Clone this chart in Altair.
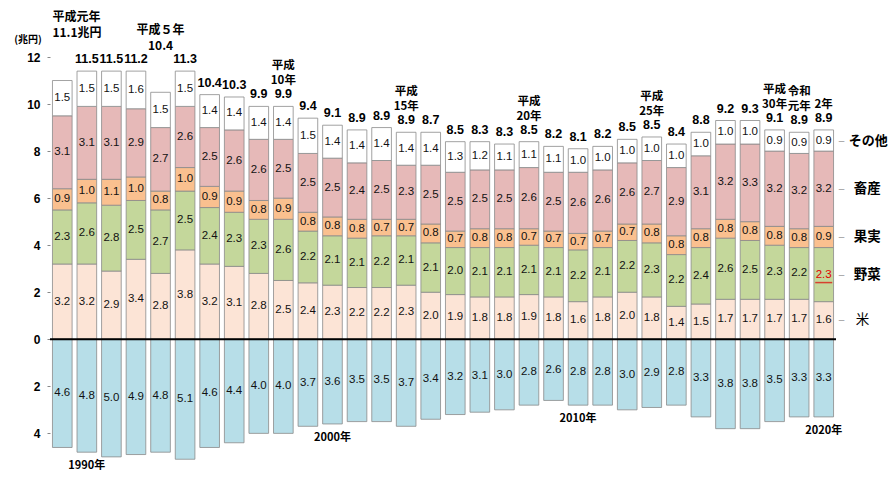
import altair as alt
import pandas as pd

years = [str(y) for y in range(1989, 2021)]
rice = [3.2, 3.2, 2.9, 3.4, 2.8, 3.8, 3.2, 3.1, 2.8, 2.5, 2.4, 2.3, 2.2, 2.2, 2.3, 2.0,
        1.9, 1.8, 1.8, 1.9, 1.8, 1.6, 1.8, 2.0, 1.8, 1.4, 1.5, 1.7, 1.7, 1.7, 1.7, 1.6]
vegetables = [2.3, 2.6, 2.8, 2.5, 2.7, 2.5, 2.4, 2.3, 2.3, 2.6, 2.2, 2.1, 2.1, 2.2, 2.1, 2.1,
              2.0, 2.1, 2.1, 2.1, 2.1, 2.2, 2.1, 2.2, 2.3, 2.2, 2.4, 2.6, 2.5, 2.3, 2.2, 2.3]
fruit = [0.9, 1.0, 1.1, 1.0, 0.8, 1.0, 0.9, 0.9, 0.8, 0.9, 0.8, 0.8, 0.8, 0.7, 0.7, 0.8,
         0.7, 0.8, 0.8, 0.7, 0.7, 0.7, 0.7, 0.7, 0.8, 0.8, 0.8, 0.8, 0.8, 0.8, 0.8, 0.9]
livestock = [3.1, 3.1, 3.1, 2.9, 2.7, 2.6, 2.5, 2.6, 2.6, 2.5, 2.5, 2.5, 2.4, 2.5, 2.3, 2.5,
             2.5, 2.5, 2.5, 2.6, 2.5, 2.6, 2.6, 2.6, 2.7, 2.9, 3.1, 3.2, 3.3, 3.2, 3.2, 3.2]
other = [1.5, 1.5, 1.5, 1.6, 1.5, 1.5, 1.4, 1.4, 1.4, 1.4, 1.5, 1.4, 1.4, 1.4, 1.4, 1.4,
         1.3, 1.2, 1.1, 1.1, 1.1, 1.0, 1.0, 1.0, 1.0, 1.0, 1.0, 1.0, 1.0, 0.9, 0.9, 0.9]
income = [4.6, 4.8, 5.0, 4.9, 4.8, 5.1, 4.6, 4.4, 4.0, 4.0, 3.7, 3.6, 3.5, 3.5, 3.7, 3.4,
          3.2, 3.1, 3.0, 2.8, 2.6, 2.8, 2.8, 3.0, 2.9, 2.8, 3.3, 3.8, 3.8, 3.5, 3.3, 3.3]
totals = [11.1, 11.5, 11.5, 11.2, 10.4, 11.3, 10.4, 10.3, 9.9, 9.9, 9.4, 9.1, 8.9, 8.9, 8.9, 8.7,
          8.5, 8.3, 8.3, 8.5, 8.2, 8.1, 8.2, 8.5, 8.5, 8.4, 8.8, 9.2, 9.3, 9.1, 8.9, 8.9]

categories = ["米", "野菜", "果実", "畜産", "その他"]
income_name = "生産農業所得"
palette = ["#FCE4D6", "#C4D79B", "#FAC08F", "#E6B9B8", "#FFFFFF", "#B7DEE8"]

era_years = ["1998", "2003", "2008", "2013", "2018", "2019", "2020"]
era_upper = ["平成", "平成", "平成", "平成", "平成", "令和", ""]
era_lower = ["10年", "15年", "20年", "25年", "30年", "元年", "2年"]
lifted_years = ["1989", "1993"]
lifted_upper = ["平成元年", "平成５年"]
lifted_lower = ["11.1兆円", "10.4"]
decade_years = ["1990", "2000", "2010", "2020"]

series = [rice, vegetables, fruit, livestock, other]
rows, tops = [], []
for i, yr in enumerate(years):
    base = 0.0
    for cat, vals in zip(categories, series):
        v = vals[i]
        rows.append({"year": yr, "cat": cat, "lo": base, "hi": base + v,
                     "mid": base + v / 2, "label": f"{v:.1f}"})
        base += v
    tops.append(base)
    v = income[i]
    rows.append({"year": yr, "cat": income_name, "lo": -v, "hi": 0.0,
                 "mid": -v / 2, "label": f"{v:.1f}"})
seg = pd.DataFrame(rows)

tot = pd.DataFrame({"year": years, "top": tops, "total": [f"{t:.1f}" for t in totals],
                    "bottom": [-v for v in income]})
tot_plain = tot[~tot["year"].isin(lifted_years)]
era = tot[tot["year"].isin(era_years)].copy()
era["upper"] = [era_upper[era_years.index(y)] for y in era["year"]]
era["lower"] = [era_lower[era_years.index(y)] for y in era["year"]]
lifted = tot[tot["year"].isin(lifted_years)].copy()
lifted["upper"] = [lifted_upper[lifted_years.index(y)] for y in lifted["year"]]
lifted["lower"] = [lifted_lower[lifted_years.index(y)] for y in lifted["year"]]
decades = tot[tot["year"].isin(decade_years)]

W, H = 786, 414
xs = alt.Scale(domain=years, paddingInner=0.2, paddingOuter=0.1)
ys = alt.Scale(domain=[-5.6, 12], nice=False, zero=False)
yaxis = alt.Axis(values=[-4, -2, 0, 2, 4, 6, 8, 10, 12], labelExpr="abs(datum.value)",
                 domain=False, grid=False, tickSize=3, tickColor="#888888",
                 labelFont="Liberation Sans", labelFontWeight="bold", labelFontSize=12,
                 labelColor="#000000", labelPadding=7, title=None)


def X(**kw):
    return alt.X("year:N", scale=xs, axis=None, **kw)


def Y(field):
    return alt.Y(field, scale=ys, axis=yaxis)


JP = "Noto Sans CJK JP"

bars = alt.Chart(seg).mark_bar(stroke="#8a8a8a", strokeWidth=0.8).encode(
    x=X(), y=Y("lo:Q"), y2="hi:Q",
    color=alt.Color("cat:N", scale=alt.Scale(domain=categories + [income_name], range=palette),
                    legend=None))

zero = alt.Chart(pd.DataFrame({"z": [0]})).mark_rule(color="#000000", strokeWidth=2).encode(
    y=Y("z:Q"), x=alt.value(0), x2=alt.value(W))

seg_labels = alt.Chart(seg).mark_text(font="Liberation Sans", fontSize=11.5,
                                      baseline="middle").encode(
    x=X(), y=Y("mid:Q"), text="label:N",
    color=alt.condition("datum.year == '2020' && datum.cat == '野菜'",
                        alt.value("#E00000"), alt.value("#111111")))

underline = alt.Chart(seg[(seg["year"] == "2020") & (seg["cat"] == "野菜")]).mark_tick(
    color="#E00000", thickness=1.5, size=17, orient="horizontal", yOffset=8).encode(
    x=X(), y=Y("mid:Q"))

total_labels = alt.Chart(tot_plain).mark_text(
    font="Liberation Sans", fontWeight="bold", fontSize=12.5, baseline="bottom", dy=-5).encode(
    x=X(), y=Y("top:Q"), text="total:N")

era_low = alt.Chart(era).mark_text(
    font=JP, fontWeight="bold", fontSize=11.5, baseline="bottom", dy=-20).encode(
    x=X(), y=Y("top:Q"), text="lower:N")
era_up = alt.Chart(era).mark_text(
    font=JP, fontWeight="bold", fontSize=11.5, baseline="bottom", dy=-35).encode(
    x=X(), y=Y("top:Q"), text="upper:N")

first = lifted[lifted["year"] == "1989"]
rest = lifted[lifted["year"] != "1989"]
lifted_first_up = alt.Chart(first).mark_text(
    font=JP, fontWeight="bold", fontSize=12, baseline="bottom", align="left", dy=-57).encode(
    x=X(bandPosition=0), y=Y("top:Q"), text="upper:N")
lifted_first_low = alt.Chart(first).mark_text(
    font=JP, fontWeight="bold", fontSize=12, baseline="bottom", align="left", dy=-41).encode(
    x=X(bandPosition=0), y=Y("top:Q"), text="lower:N")
lifted_rest_up = alt.Chart(rest).mark_text(
    font=JP, fontWeight="bold", fontSize=12, baseline="bottom", align="center", dy=-55).encode(
    x=X(), y=Y("top:Q"), text="upper:N")
lifted_rest_low = alt.Chart(rest).mark_text(
    font=JP, fontWeight="bold", fontSize=12, baseline="bottom", align="center", dy=-39).encode(
    x=X(), y=Y("top:Q"), text="lower:N")

decade_labels = alt.Chart(decades).transform_calculate(
    lab="datum.year + '年'").mark_text(
    font=JP, fontWeight="bold", fontSize=11, baseline="top", dy=8).encode(
    x=X(), y=Y("bottom:Q"), text="lab:N")

last = seg[(seg["year"] == "2020") & (seg["cat"].isin(categories))]
leaders = alt.Chart(last).mark_text(
    text="–", color="#9a9a9a", fontSize=10, align="left", dx=15).encode(x=X(), y=Y("mid:Q"))
legend_other = alt.Chart(last[last["cat"] == "その他"]).mark_text(
    font=JP, fontWeight="bold", fontSize=13, align="left", dx=25).encode(
    x=X(), y=Y("mid:Q"), text="cat:N")
legend_mid = alt.Chart(last[last["cat"].isin(["畜産", "果実", "野菜"])]).mark_text(
    font=JP, fontWeight="bold", fontSize=13.5, align="left", dx=30).encode(
    x=X(), y=Y("mid:Q"), text="cat:N")
legend_rice = alt.Chart(last[last["cat"] == "米"]).mark_text(
    font=JP, fontSize=13.5, align="left", dx=32).encode(
    x=X(), y=Y("mid:Q"), text="cat:N")

unit = alt.Chart(pd.DataFrame({"t": ["(兆円)"]})).mark_text(
    font=JP, fontWeight="bold", fontSize=10, align="center", baseline="middle").encode(
    x=alt.value(-22), y=alt.value(-17), text="t:N")

chart = alt.layer(
    bars, zero, seg_labels, underline, total_labels, era_low, era_up,
    lifted_first_up, lifted_first_low, lifted_rest_up, lifted_rest_low,
    decade_labels, leaders, legend_other, legend_mid, legend_rice, unit
).properties(
    width=W, height=H,
    autosize=alt.AutoSizeParams(type="none"),
    padding={"left": 42, "top": 49, "right": 52, "bottom": 0},
).configure_view(stroke=None)

chart.save("out.html", embed_options={"renderer": "svg", "actions": False})
